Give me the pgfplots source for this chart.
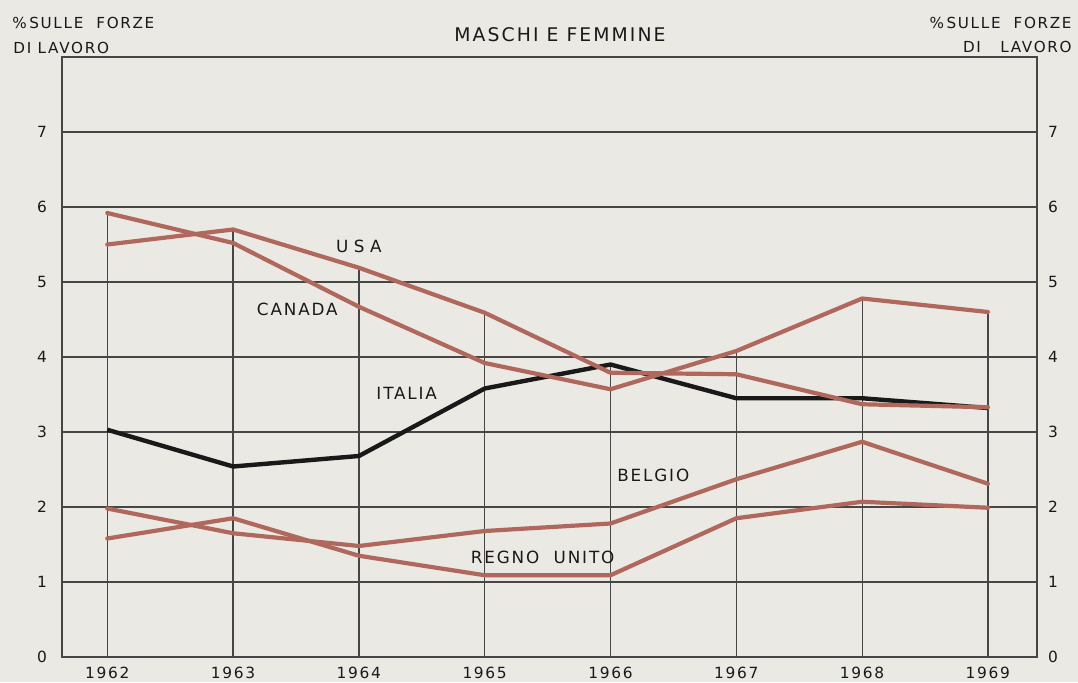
\documentclass[border=0pt]{standalone}
\usepackage{fontspec}
\setmainfont[LetterSpace=11]{DejaVu Sans}
\usepackage{pgfplots}
\pgfplotsset{compat=1.18}
\definecolor{bgc}{RGB}{234,233,228}
\definecolor{rose}{RGB}{176,104,92}
\definecolor{gridc}{RGB}{70,70,70}
\tikzset{
  lbl/.style={font=\fontsize{8.4}{9}\selectfont,text=black!90,inner sep=0pt},
  serie/.style={rose,line width=2.1pt,line join=round,line cap=round},
}

\begin{document}
\begin{tikzpicture}
\fill[bgc] (-31pt,-12.5pt) rectangle (508pt,328.5pt);
\useasboundingbox (-31pt,-12.5pt) rectangle (508pt,328.5pt);

\begin{axis}[at={(0,0)}, anchor=south west, scale only axis,
  width=487.5pt, height=300pt,
  xmin=1961.64, xmax=1969.39, ymin=0, ymax=8,
  xtick={1962,...,1969}, ytick={0,...,7},
  xticklabel style={/pgf/number format/1000 sep={}, yshift=-1.5pt},
  /pgf/number format/assume math mode=true,
  tick label style={font=\fontsize{7.7}{9}\selectfont, text=black!90},
  yticklabel style={xshift=-4pt},
  major tick length=0pt,
  axis line style={gridc, line width=0.8pt},
  ymajorgrids, grid style={gridc, line width=0.6pt},
  axis background/.style={fill=bgc}, clip=false]

% linee verticali dal massimo di ogni anno
\addplot[ycomb, gridc, line width=0.6pt, mark=none] coordinates {
 (1962,5.92) (1963,5.70) (1964,5.19) (1965,4.59) (1966,3.91) (1967,4.08) (1968,4.78) (1969,4.60)};

% Italia
\addplot[black!90, line width=2.2pt, line join=round] coordinates {
 (1962,3.03) (1963,2.54) (1964,2.68) (1965,3.58) (1966,3.90) (1967,3.45) (1968,3.45) (1969,3.32)};
% Belgio
\addplot[serie] coordinates {
 (1962,1.98) (1963,1.65) (1964,1.48) (1965,1.68) (1966,1.78) (1967,2.37) (1968,2.87) (1969,2.31)};
% Regno Unito
\addplot[serie] coordinates {
 (1962,1.58) (1963,1.85) (1964,1.35) (1965,1.09) (1966,1.09) (1967,1.85) (1968,2.07) (1969,1.99)};
% Canada
\addplot[serie] coordinates {
 (1962,5.92) (1963,5.52) (1964,4.67) (1965,3.92) (1966,3.57) (1967,4.08) (1968,4.78) (1969,4.60)};
% USA
\addplot[serie] coordinates {
 (1962,5.50) (1963,5.70) (1964,5.19) (1965,4.59) (1966,3.79) (1967,3.77) (1968,3.37) (1969,3.33)};

\node[lbl] at (axis cs:1964.0,5.47) {U\,\,S\,\,A};
\node[lbl] at (axis cs:1963.51,4.64) {CANADA};
\node[lbl] at (axis cs:1964.38,3.51) {ITALIA};
\node[lbl] at (axis cs:1966.34,2.42) {BELGIO};
\node[lbl] at (axis cs:1965.46,1.33) {REGNO\ \ UNITO};
\end{axis}

\begin{axis}[at={(0,0)}, anchor=south west, scale only axis,
  width=487.5pt, height=300pt,
  xmin=1961.64, xmax=1969.39, ymin=0, ymax=8,
  axis x line=none, axis y line*=right,
  ytick={0,...,7},
  /pgf/number format/assume math mode=true,
  tick label style={font=\fontsize{7.7}{9}\selectfont, text=black!90},
  yticklabel style={xshift=2pt},
  major tick length=0pt,
  axis line style={gridc, line width=0.8pt}]
\addplot[draw=none] coordinates {(1962,0)};
\end{axis}

\node[font=\fontsize{9.4}{10}\selectfont, text=black!90] at (249pt,311pt) {MASCHI E FEMMINE};
\node[font=\fontsize{7.6}{9}\selectfont, anchor=west, inner sep=0pt, text=black!90] at (-25pt,317pt) {\%\,SULLE\ \ FORZE};
\node[font=\fontsize{7.6}{9}\selectfont, anchor=west, inner sep=0pt, text=black!90] at (-24.5pt,304.5pt) {DI LAVORO};
\node[font=\fontsize{7.6}{9}\selectfont, anchor=east, inner sep=0pt, text=black!90] at (505pt,317pt) {\%\,SULLE\ \ FORZE};
\node[font=\fontsize{7.6}{9}\selectfont, anchor=east, inner sep=0pt, text=black!90] at (505pt,305pt) {DI\ \ \ LAVORO};
\end{tikzpicture}
\end{document}
